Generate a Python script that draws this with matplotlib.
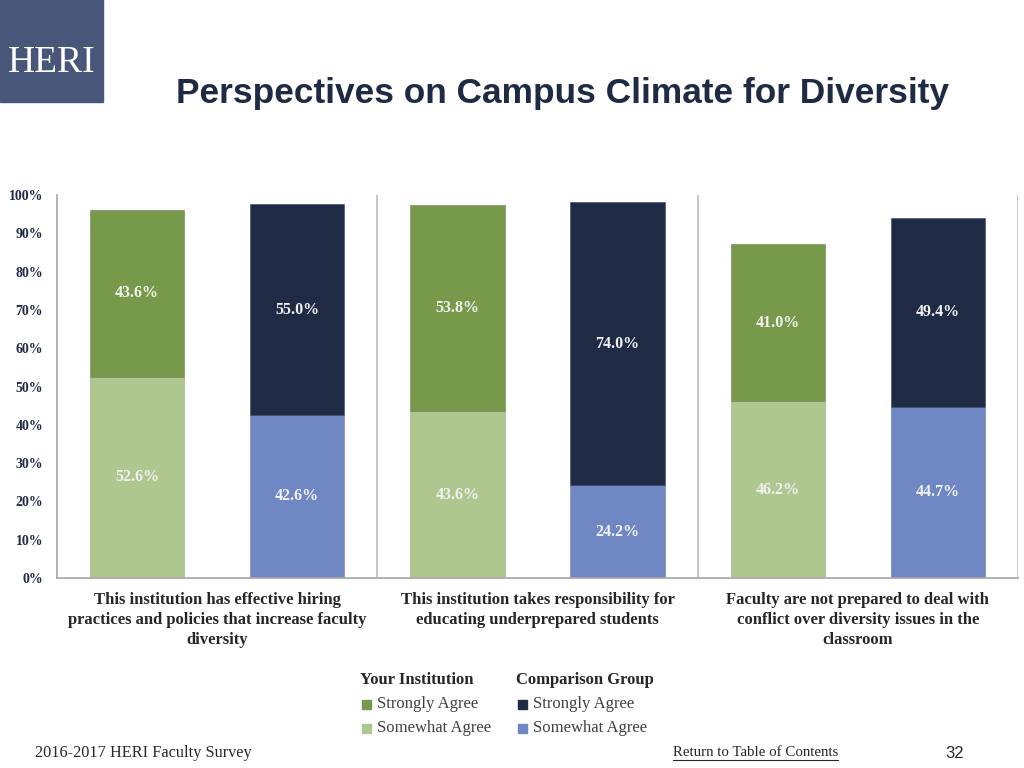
import matplotlib.pyplot as plt
from matplotlib.patches import Rectangle

# data
categories = [
    "This institution has effective hiring\npractices and policies that increase faculty\ndiversity",
    "This institution takes responsibility for\neducating underprepared students",
    "Faculty are not prepared to deal with\nconflict over diversity issues in the\nclassroom",
]
your_somewhat = [52.6, 43.6, 46.2]
your_strongly = [43.6, 53.8, 41.0]
comp_somewhat = [42.6, 24.2, 44.7]
comp_strongly = [55.0, 74.0, 49.4]
yticks = [0, 10, 20, 30, 40, 50, 60, 70, 80, 90, 100]

c_your_strong = "#77994a"
c_your_some = "#aec78f"
c_comp_strong = "#1f2a44"
c_comp_some = "#6f88c4"
navy = "#1f2a44"
serif = "Liberation Serif"

fig = plt.figure(figsize=(10.24, 7.68), dpi=100)
W, H = 1024, 768

# axes placed in pixel coords: left 57, right 1018, top 195, bottom 578
ax = fig.add_axes([57 / W, 1 - 578 / H, (1018 - 57) / W, (578 - 195) / H])

bw = 0.59
for i in range(3):
    xa = 2 * i
    xb = 2 * i + 1
    ax.bar(xa, your_somewhat[i], bw, color=c_your_some, edgecolor="#9aa98a", linewidth=0.4)
    ax.bar(xa, your_strongly[i], bw, bottom=your_somewhat[i], color=c_your_strong,
           edgecolor="#6e7f5a", linewidth=0.4)
    ax.bar(xb, comp_somewhat[i], bw, color=c_comp_some, edgecolor="#6a789c", linewidth=0.4)
    ax.bar(xb, comp_strongly[i], bw, bottom=comp_somewhat[i], color=c_comp_strong,
           edgecolor="#3a4560", linewidth=0.4)
    for x, lo, hi in [(xa, your_somewhat[i], your_strongly[i]), (xb, comp_somewhat[i], comp_strongly[i])]:
        ax.text(x, lo / 2, f"{lo:.1f}%", ha="center", va="center", color="#f2f2f2",
                fontsize=11.5, fontweight="bold", family=serif)
        ax.text(x, lo + hi / 2, f"{hi:.1f}%", ha="center", va="center", color="#f2f2f2",
                fontsize=11.5, fontweight="bold", family=serif)

for xs in [1.5, 3.5, 5.5]:
    ax.axvline(xs, color="#bdbdbd", linewidth=1.2)

ax.set_xlim(-0.5, 5.5)
ax.set_ylim(0, 100)
ax.set_yticks(yticks)
ax.set_yticklabels([f"{v}%" for v in yticks], family=serif, fontweight="bold",
                   fontsize=10, color=navy)
ax.tick_params(axis="y", length=0, pad=10)
ax.tick_params(axis="x", length=0)
ax.set_xticks([0.5, 2.5, 4.5])
ax.set_xticklabels(categories, family=serif, fontweight="bold", fontsize=12,
                   color="#262626", linespacing=1.33)
ax.tick_params(axis="x", pad=10)
for s in ["top", "right"]:
    ax.spines[s].set_visible(False)
ax.spines["left"].set_color("#a6a6a6")
ax.spines["bottom"].set_color("#a6a6a6")
ax.spines["left"].set_linewidth(1.2)
ax.spines["bottom"].set_linewidth(1.2)

# HERI logo block
fig.patches.append(Rectangle((0, 1 - 102 / H), 103 / W, 102 / H, transform=fig.transFigure,
                             color="#48567a", zorder=0))
fig.text(52 / W, 1 - 63 / H, "HERI", ha="center", va="center", color="white",
         fontsize=27, family=serif)

# title
fig.text(562 / W, 1 - 94 / H, "Perspectives on Campus Climate for Diversity", ha="center",
         va="center", color=navy, fontsize=25.4, fontweight="bold", family="Liberation Sans")

# legend
fig.text(360 / W, 1 - 680 / H, "Your Institution", fontweight="bold", family=serif,
         fontsize=12, color="#262626", va="center")
fig.text(516 / W, 1 - 680 / H, "Comparison Group", fontweight="bold", family=serif,
         fontsize=12, color="#262626", va="center")
leg = [(362, 704, c_your_strong, "Strongly Agree"), (362, 728, c_your_some, "Somewhat Agree"),
       (518, 704, c_comp_strong, "Strongly Agree"), (518, 728, c_comp_some, "Somewhat Agree")]
for px, py, col, lab in leg:
    fig.patches.append(Rectangle((px / W, 1 - (py + 4.5) / H), 9 / W, 9 / H,
                                 transform=fig.transFigure, color=col))
    fig.text((px + 15) / W, 1 - py / H, lab, family=serif, fontsize=12,
             color="#404040", va="center")

# footer
fig.text(35 / W, 1 - 753 / H, "2016-2017 HERI Faculty Survey", family=serif, fontsize=11.7,
         color="#262626", va="center")
fig.text(673 / W, 1 - 753 / H, "Return to Table of Contents", family=serif, fontsize=10.7,
         color="#262626", va="center")
fig.add_artist(plt.Line2D([673 / W, 838 / W], [1 - 760 / H, 1 - 760 / H], color="#262626",
                          linewidth=0.8, transform=fig.transFigure))
fig.text(955 / W, 1 - 753 / H, "32", family="Liberation Sans", fontsize=12,
         color="#262626", va="center", ha="center")

fig.savefig("out.png", dpi=100)
